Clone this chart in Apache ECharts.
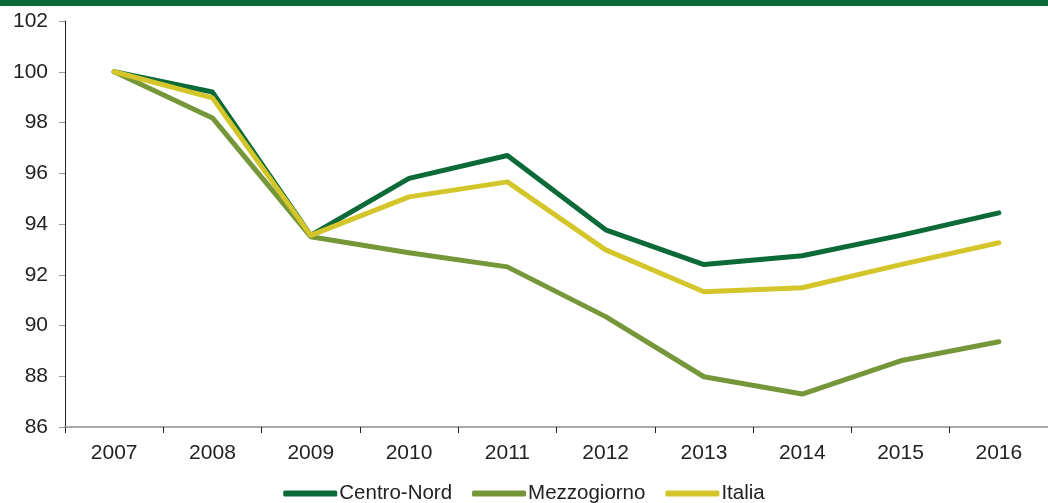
<!DOCTYPE html>
<html><head><meta charset="utf-8">
<script src="https://cdn.jsdelivr.net/npm/echarts@6/dist/echarts.min.js"></script>
<style>html,body{margin:0;padding:0;background:#fff}#band{position:absolute;left:0;top:0;width:1048px;height:6px;background:#0b6a38}#c{width:1048px;height:503px}</style>
</head><body><div id="band"></div><div id="c"></div>
<script>
const years = ['2007','2008','2009','2010','2011','2012','2013','2014','2015','2016'];
const centroNord = [100, 99.2, 93.55, 95.8, 96.7, 93.77, 92.4, 92.75, 93.55, 94.44];
const mezzogiorno = [100, 98.18, 93.5, 92.87, 92.31, 90.35, 87.98, 87.3, 88.61, 89.36];
const italia = [100, 98.97, 93.55, 95.07, 95.66, 92.98, 91.33, 91.49, 92.4, 93.26];
const names = ['Centro-Nord','Mezzogiorno','Italia'];
const colors = ['#0b6a38','#76963a','#d4c62a'];
const font = 'Liberation Sans';
const chart = echarts.init(document.getElementById('c'));
const mk = (n, d, c) => ({name:n, type:'line', data:d, symbol:'none', lineStyle:{width:5, color:c, cap:'round', join:'round'}, itemStyle:{color:c}});
chart.setOption({
  animation:false,
  grid:{left:65, right:0, top:21, bottom:76},
  legend:{bottom:-6, left:'center', itemWidth:54, itemHeight:6, itemGap:20, icon:'roundRect',
    textStyle:{fontFamily:font, fontSize:20.5, color:'#222', padding:[0,0,0,-3]}, data:names},
  xAxis:{type:'category', data:years, boundaryGap:true,
    axisLine:{lineStyle:{color:'#aaa', width:2}},
    axisTick:{show:true, length:6, lineStyle:{color:'#222', width:1}},
    axisLabel:{fontFamily:font, fontSize:21, color:'#222', margin:16}},
  yAxis:{type:'value', min:86, max:102, interval:2,
    axisLine:{show:true, lineStyle:{color:'#222', width:1}},
    axisTick:{show:true, length:6, lineStyle:{color:'#999'}},
    splitLine:{show:false},
    axisLabel:{fontFamily:font, fontSize:21, color:'#222', margin:17}},
  series:[mk(names[0], centroNord, colors[0]), mk(names[1], mezzogiorno, colors[1]), mk(names[2], italia, colors[2])]
});
</script></body></html>
